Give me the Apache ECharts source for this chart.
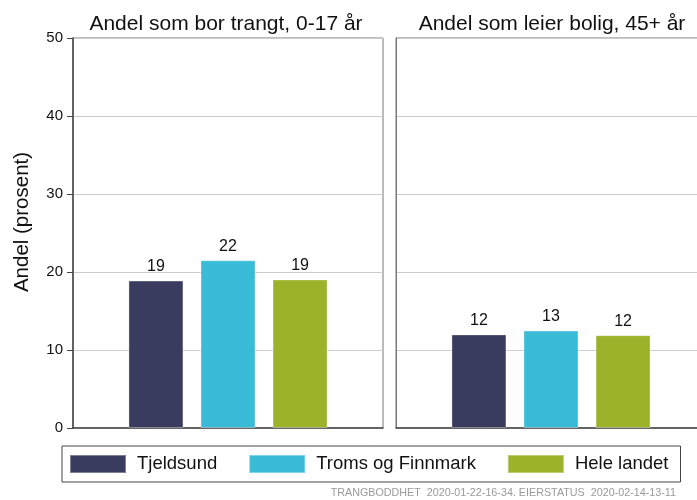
<!DOCTYPE html>
<html>
<head>
<meta charset="utf-8">
<script src="https://cdn.jsdelivr.net/npm/echarts@6/dist/echarts.min.js"></script>
<style>html,body{margin:0;padding:0;background:#fff;overflow:hidden}#c{width:720px;height:500px}</style>
</head>
<body>
<div id="c"></div>
<script>
const panelTitles = ['Andel som bor trangt, 0-17 år', 'Andel som leier bolig, 45+ år'];
const seriesNames = ['Tjeldsund', 'Troms og Finnmark', 'Hele landet'];
const tjeldsund = [18.9, 12.0];
const tromsOgFinnmark = [21.5, 12.5];
const heleLandet = [19.05, 11.9];
const yTicks = [0, 10, 20, 30, 40, 50];
const yAxisTitle = 'Andel (prosent)';
const footer = 'TRANGBODDHET  2020-01-22-16-34. EIERSTATUS  2020-02-14-13-11';
const colors = ['#3A3C5F', '#3ABBD8', '#9BB22A'];
const values = [tjeldsund, tromsOgFinnmark, heleLandet];

const font = 'Liberation Sans, Arial, sans-serif';
const chart = echarts.init(document.getElementById('c'), null, {renderer: 'canvas'});

const grids = [
  {left: 73, top: 38, width: 310, height: 390},
  {left: 396, top: 38, width: 310, height: 390}
];
const series = [];
for (let p = 0; p < 2; p++) {
  for (let s = 0; s < 3; s++) {
    series.push({
      type: 'bar',
      name: seriesNames[s],
      xAxisIndex: p,
      yAxisIndex: p,
      data: [values[s][p]],
      barWidth: 55,
      barGap: '31%',
      itemStyle: {color: colors[s], borderColor: 'rgba(255,255,255,0.35)', borderWidth: 1},
      label: {
        show: true, position: 'top', distance: 6,
        formatter: (d) => String(Math.round(d.value)),
        fontFamily: font, fontSize: 16, color: '#111'
      }
    });
  }
}

chart.setOption({
  animation: false,
  backgroundColor: '#fff',
  title: [
    {text: panelTitles[0], left: 221, top: 9, textAlign: 'center',
     textStyle: {fontFamily: font, fontSize: 21, fontWeight: 'normal', color: '#111'}},
    {text: panelTitles[1], left: 547, top: 9, textAlign: 'center',
     textStyle: {fontFamily: font, fontSize: 21, fontWeight: 'normal', color: '#111'}}
  ],
  grid: grids.map(g => Object.assign({show: true, borderColor: '#777', borderWidth: 1, containLabel: false}, g)),
  xAxis: [0, 1].map(i => ({
    type: 'category', gridIndex: i, data: [''],
    axisLine: {show: true, lineStyle: {color: '#444', width: 1.5}},
    axisTick: {show: false}, axisLabel: {show: false}, splitLine: {show: false}
  })),
  yAxis: [0, 1].map(i => ({
    type: 'value', gridIndex: i, min: yTicks[0], max: yTicks[yTicks.length - 1], interval: 10,
    axisLine: {show: true, lineStyle: {color: i === 0 ? '#444' : '#777', width: i === 0 ? 1.5 : 1}},
    axisTick: {show: i === 0, length: 6, lineStyle: {color: '#444'}},
    axisLabel: {show: i === 0, fontFamily: font, fontSize: 15, color: '#111', margin: 10},
    splitLine: {show: true, lineStyle: {color: '#cccccc', width: 1}}
  })),
  legend: {
    data: seriesNames,
    left: 62, top: 446,
    orient: 'horizontal',
    itemWidth: 56, itemHeight: 18, itemGap: 31,
    padding: [8, 12, 8, 7],
    borderColor: '#444', borderWidth: 1,
    icon: 'rect',
    textStyle: {fontFamily: font, fontSize: 18.5, color: '#111', padding: [0, 0, 0, 6]}
  },
  graphic: [
    {type: 'text', x: 22, y: 222, rotation: Math.PI / 2,
     style: {text: yAxisTitle, fontFamily: font, fontSize: 20.5, fill: '#111',
             textAlign: 'center', textVerticalAlign: 'middle'}},
    {type: 'text', x: 676, y: 493,
     style: {text: footer, fontFamily: font, fontSize: 10.75, fill: '#9a9a9a',
             textAlign: 'right', textVerticalAlign: 'middle'}}
  ],
  series: series
});
</script>
</body>
</html>
